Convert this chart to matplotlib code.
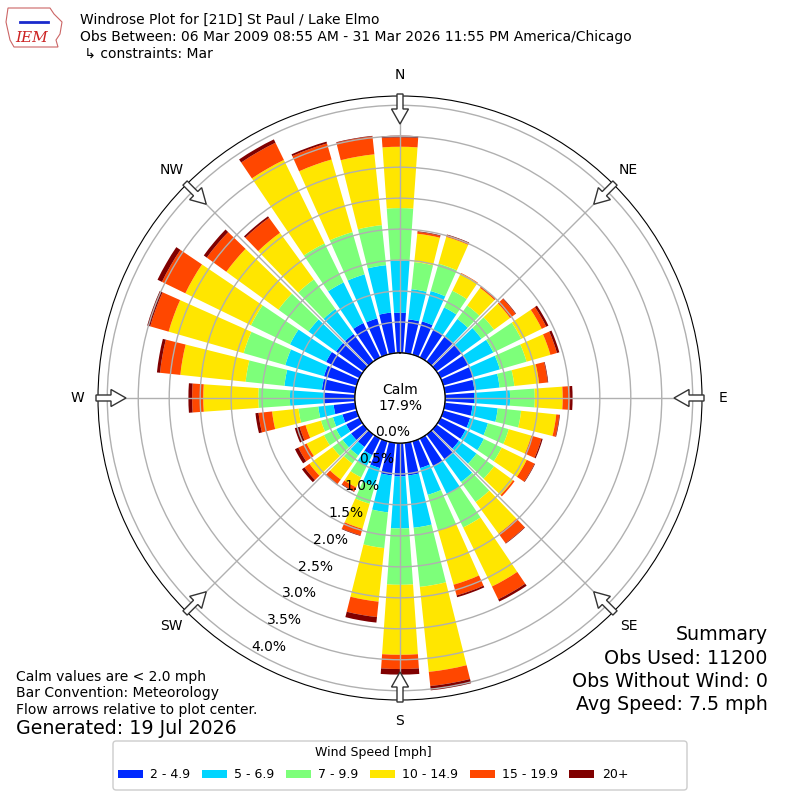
import numpy as np
import matplotlib
matplotlib.use("Agg")
import matplotlib.pyplot as plt
from matplotlib.patches import Polygon, FancyBboxPatch
from matplotlib.transforms import offset_copy

# direction bins (deg, meteorological) and frequency (%) per speed class
directions = np.arange(0, 360, 10)
bin_labels = ["2 - 4.9", "5 - 6.9", "7 - 9.9", "10 - 14.9", "15 - 19.9", "20+"]

spd_2_5 = [0.65, 0.55, 0.56, 0.50, 0.50, 0.50, 0.50, 0.50, 0.48, 0.47, 0.45, 0.45,
           0.45, 0.45, 0.50, 0.50, 0.45, 0.53, 0.54, 0.53, 0.45, 0.30, 0.25, 0.25,
           0.24, 0.24, 0.35, 0.51, 0.54, 0.55, 0.60, 0.55, 0.55, 0.62, 0.61, 0.66]
spd_5_7 = [0.84, 0.49, 0.51, 0.40, 0.35, 0.40, 0.45, 0.45, 0.41, 0.58, 0.41, 0.30,
           0.33, 0.35, 0.45, 0.50, 0.45, 0.85, 0.84, 0.60, 0.30, 0.20, 0.17, 0.17,
           0.18, 0.16, 0.25, 0.54, 0.61, 0.65, 0.65, 0.55, 0.50, 0.73, 0.74, 0.77]
spd_7_10 = [0.85, 0.44, 0.46, 0.30, 0.27, 0.25, 0.50, 0.45, 0.24, 0.40, 0.38, 0.35,
            0.32, 0.35, 0.40, 0.60, 0.60, 0.96, 0.91, 0.58, 0.30, 0.20, 0.16, 0.20,
            0.22, 0.20, 0.32, 0.51, 0.63, 0.70, 0.70, 0.60, 0.59, 0.70, 0.71, 0.65]
spd_10_15 = [0.99, 0.46, 0.45, 0.31, 0.35, 0.32, 0.37, 0.40, 0.40, 0.45, 0.57, 0.38,
             0.45, 0.38, 0.63, 1.06, 0.91, 1.38, 1.13, 0.87, 0.42, 0.18, 0.32, 0.46,
             0.31, 0.26, 0.43, 0.89, 1.06, 1.26, 1.18, 1.04, 0.93, 1.50, 1.22, 1.15]
spd_15_20 = [0.15, 0.03, 0.03, 0.01, 0.03, 0.11, 0.08, 0.11, 0.14, 0.12, 0.05, 0.17,
             0.14, 0.03, 0.19, 0.23, 0.18, 0.23, 0.23, 0.25, 0.11, 0.07, 0.09, 0.10,
             0.15, 0.10, 0.22, 0.18, 0.33, 0.31, 0.42, 0.39, 0.30, 0.31, 0.27, 0.29]
spd_20p = [0.03, 0.01, 0.01, 0.00, 0.00, 0.01, 0.04, 0.04, 0.01, 0.04, 0.01, 0.02,
           0.01, 0.00, 0.01, 0.04, 0.03, 0.07, 0.09, 0.09, 0.01, 0.01, 0.01, 0.05,
           0.06, 0.08, 0.05, 0.06, 0.05, 0.05, 0.08, 0.06, 0.03, 0.06, 0.03, 0.01]

series = [spd_2_5, spd_5_7, spd_7_10, spd_10_15, spd_15_20, spd_20p]
colors = plt.get_cmap("jet")(np.linspace(0, 1, 7)[1:])

fig = plt.figure(figsize=(8, 8), dpi=100)

# polar axes, centre at (400, 398) px, radius 302 px
R = 302 / 800.0
ax = fig.add_axes([0.5 - R, 0.5025 - R, 2 * R, 2 * R], projection="polar")
ax.set_theta_zero_location("N")
ax.set_theta_direction(-1)

theta = np.deg2rad(directions)
bottom = np.zeros(len(directions))
for vals, col, lab in zip(series, colors, bin_labels):
    vals = np.array(vals)
    ax.bar(theta, vals, width=np.deg2rad(8), bottom=bottom, color=col,
           edgecolor="none", label=lab)
    bottom += vals

ax.set_ylim(0, 4.15)
ax.set_rorigin(-0.727)
ax.set_thetagrids(np.arange(0, 360, 45), labels=[""] * 8)
rt = np.arange(0, 4.01, 0.5)
ax.set_rgrids(rt, labels=[""] * len(rt))
ax.grid(True, color="#b0b0b0", lw=1)

# radial labels, drawn by hand so they can sit off the grid line
lab_tr = offset_copy(ax.transData, fig=fig, x=15, y=4.5, units="dots")
for v in rt:
    ax.text(np.deg2rad(210), v, "%.1f%%" % v, transform=lab_tr, ha="center",
            va="center", fontsize=10, zorder=6)

# calm circle
tt = np.linspace(0, 2 * np.pi, 300)
ax.plot(tt, np.zeros_like(tt), color="k", lw=1, zorder=5)
ax.text(0.5, 0.5, "Calm\n17.9%", transform=ax.transAxes, ha="center",
        va="center", fontsize=10, linespacing=1.15)

# compass labels
names = ["N", "NE", "E", "SE", "S", "SW", "W", "NW"]
for i, nm in enumerate(names):
    ax.text(np.deg2rad(i * 45), 4.49, nm, ha="center", va="center",
            fontsize=10, clip_on=False)

# flow arrows
cx, cy = 400.0, 402.0
shape = [(304, -3), (289, -3), (289, -8.5), (274, 0), (289, 8.5), (289, 3), (304, 3)]
for i in range(8):
    a = np.deg2rad(i * 45)
    ux, uy = np.sin(a), np.cos(a)
    vx, vy = np.cos(a), -np.sin(a)
    pts = [((cx + d * ux + w * vx) / 800, (cy + d * uy + w * vy) / 800) for d, w in shape]
    fig.patches.append(Polygon(pts, closed=True, facecolor="white",
                               edgecolor="#333333", lw=1, transform=fig.transFigure,
                               zorder=10))

# header
fig.text(80 / 800, 1 - 20 / 800, "Windrose Plot for [21D] St Paul / Lake Elmo",
         fontsize=10, va="center")
fig.text(80 / 800, 1 - 37 / 800,
         "Obs Between: 06 Mar 2009 08:55 AM - 31 Mar 2026 11:55 PM America/Chicago",
         fontsize=10, va="center")
fig.text(80 / 800, 1 - 54 / 800, " \u21b3 constraints: Mar", fontsize=10, va="center")

# simple logo
logo = [(8, 8), (50, 8), (54, 14), (62, 22), (60, 34), (56, 40), (58, 47),
        (14, 47), (10, 40), (6, 22)]
fig.patches.append(Polygon([(x / 800, 1 - y / 800) for x, y in logo], closed=True,
                           facecolor="none", edgecolor="#cc6666", lw=0.8,
                           transform=fig.transFigure))
fig.lines.append(plt.Line2D([20 / 800, 48 / 800], [1 - 22 / 800, 1 - 22 / 800],
                            color="#1a2acc", lw=2, transform=fig.transFigure))
fig.text(32 / 800, 1 - 38 / 800, "IEM", color="#cc2222", fontsize=11,
         family="DejaVu Serif", style="italic", ha="center", va="center")

# notes
fig.text(16 / 800, 1 - 677 / 800, "Calm values are < 2.0 mph", fontsize=10, va="center")
fig.text(16 / 800, 1 - 693 / 800, "Bar Convention: Meteorology", fontsize=10, va="center")
fig.text(16 / 800, 1 - 710 / 800, "Flow arrows relative to plot center.", fontsize=10,
         va="center")
fig.text(16 / 800, 1 - 728 / 800, "Generated: 19 Jul 2026", fontsize=13.7, va="center")

summary = ["Summary", "Obs Used: 11200", "Obs Without Wind: 0", "Avg Speed: 7.5 mph"]
for i, s in enumerate(summary):
    fig.text(768 / 800, 1 - (635 + i * 23.3) / 800, s, fontsize=13.7, ha="right",
             va="center")

# legend: frame drawn separately, it is wider than its contents
fig.patches.append(FancyBboxPatch((113 / 800, 10 / 800), 574 / 800, 49 / 800,
                                  boxstyle="round,pad=0,rounding_size=0.004",
                                  facecolor="white", edgecolor="#cccccc", lw=1,
                                  transform=fig.transFigure, zorder=1))
handles, labels = ax.get_legend_handles_labels()
leg = fig.legend(handles, labels, loc="upper left",
                 bbox_to_anchor=(113 / 800, 1 - 741 / 800), borderaxespad=0,
                 ncol=6, title="Wind Speed [mph]", fontsize=9, title_fontsize=9,
                 handlelength=2.0, columnspacing=0.9, handletextpad=0.6,
                 labelspacing=0.75, frameon=False)
leg.set_zorder(2)

fig.savefig("out.png", dpi=100)
